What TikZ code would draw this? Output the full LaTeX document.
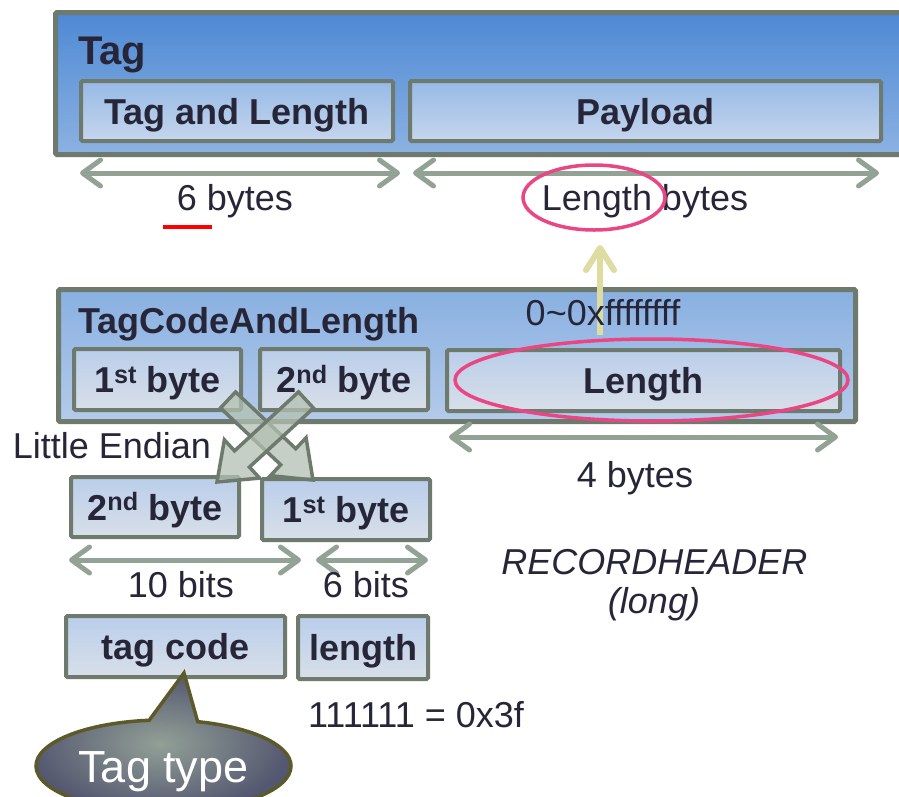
\documentclass[tikz,border=0pt]{standalone}
\usepackage{fontspec}
\setmainfont{Liberation Sans}
\usetikzlibrary{arrows.meta,calc,shapes.geometric,shapes.callouts}

\definecolor{ink}{RGB}{38,38,56}
\definecolor{rim}{RGB}{110,122,110}
\definecolor{dimline}{RGB}{146,163,150}
\definecolor{outerTop}{RGB}{78,137,212}
\definecolor{outerBot}{RGB}{140,178,226}
\definecolor{midTop}{RGB}{137,176,225}
\definecolor{midBot}{RGB}{180,203,234}
\definecolor{fieldTop}{RGB}{150,186,230}
\definecolor{fieldBot}{RGB}{198,214,237}
\definecolor{paleTop}{RGB}{186,206,234}
\definecolor{paleBot}{RGB}{216,223,233}
\definecolor{ring}{RGB}{234,70,132}
\definecolor{pointer}{RGB}{222,220,160}
\definecolor{swapfill}{RGB}{178,192,178}
\definecolor{calloutIn}{RGB}{146,160,150}
\definecolor{calloutOut}{RGB}{84,87,112}
\definecolor{calloutRim}{RGB}{92,90,40}

\newcommand\setfs[1]{\fontsize{#1}{#1}\selectfont}

% wide translucent block arrow between two named points
\newcommand\swaparrow[2]{%
  \coordinate (hb) at ($(#2)!34pt!(#1)$);
  \draw[swap]
    ($(#1)!11pt!90:(#2)$) -- ($(hb)!11pt!90:(#2)$) -- ($(hb)!26pt!90:(#2)$)
    -- (#2) -- ($(hb)!26pt!-90:(#2)$) -- ($(hb)!11pt!-90:(#2)$)
    -- ($(#1)!11pt!-90:(#2)$) -- cycle;}

\begin{document}
\begin{tikzpicture}[x=1pt,y=-1pt,
  outerbox/.style={draw=rim, line width=5pt, rounded corners=1.5pt,
    top color=outerTop, bottom color=outerBot, inner sep=0pt},
  midbox/.style={draw=rim, line width=5pt, rounded corners=1.5pt,
    top color=midTop, bottom color=midBot, inner sep=0pt},
  field/.style={draw=rim, line width=4pt, rounded corners=1.5pt,
    top color=fieldTop, bottom color=fieldBot, inner sep=0pt,
    text=ink, font=\setfs{36}\bfseries, text height=26pt, text depth=0pt},
  palefield/.style={field, top color=paleTop, bottom color=paleBot},
  span/.style={draw=dimline, line width=5pt,
    {Straight Barb[length=18pt,width=26pt,round]}-{Straight Barb[length=18pt,width=26pt,round]}},
  plain/.style={text=ink, inner sep=0pt, font=\setfs{36}, anchor=base},
  ringmark/.style={ellipse, draw=ring, line width=3.5pt, inner sep=0pt},
  swap/.style={draw=rim, line width=3.5pt, fill=swapfill, fill opacity=0.75,
    line join=miter},
]
\useasboundingbox (0,0) rectangle (899,796);
\clip (0,0) rectangle (899,796);
\fill[white] (0,0) rectangle (899,796);

% ---------- Tag ----------
\node[outerbox, minimum width=900pt, minimum height=142pt] (tag) at (505.5,83.5) {};
\node[anchor=base west, inner sep=0pt, text=ink, font=\setfs{40}\bfseries] (tagtitle) at (78,64) {Tag};
\node[field, minimum width=312pt, minimum height=60pt] (tal) at (237,111) {Tag and Length};
\node[field, minimum width=471pt, minimum height=60pt] (payload) at (645.5,111) {Payload};

\coordinate (s1a) at (80,173);  \coordinate (s1b) at (400,173);
\coordinate (s2a) at (413,173); \coordinate (s2b) at (879,173);
\draw[span] (s1a) -- (s1b);
\draw[span] (s2a) -- (s2b);

\node[plain] (sixbytes) at (235,210) {6 bytes};
\draw[red, line width=3.5pt] (163,227) -- (212,227);
\node[plain] (lenbytes) at (645,210) {Length bytes};
\node[ringmark, minimum width=142pt, minimum height=65pt] (ring1) at (594,197.5) {};

% ---------- TagCodeAndLength ----------
\node[midbox, minimum width=797pt, minimum height=132pt] (tcal) at (457,355.5) {};
\node[anchor=base west, inner sep=0pt, text=ink, font=\setfs{36}\bfseries] (tcaltitle) at (78,333) {TagCodeAndLength};

\coordinate (up0) at (600,335); \coordinate (up1) at (600,245);
\draw[pointer, line width=6pt, -{Straight Barb[length=22pt,width=28pt,round]}] (up0) -- (up1);
\node[plain] (range) at (603,325) {0\char`~0xffffffff};

\node[palefield, minimum width=167pt, minimum height=61pt] (b1) at (157.5,379.5) {1\textsuperscript{st} byte};
\node[palefield, minimum width=168pt, minimum height=61pt] (b2) at (344,379.5) {2\textsuperscript{nd} byte};
\node[palefield, minimum width=393pt, minimum height=61pt] (len) at (643.5,380.5) {Length};
\node[ringmark, minimum width=393pt, minimum height=82pt] (ring2) at (651.5,380) {};

\coordinate (s3a) at (449,437); \coordinate (s3b) at (838,437);
\draw[span] (s3a) -- (s3b);
\node[plain] (fourbytes) at (635,487) {4 bytes};

\node[plain, font=\setfs{36}\itshape] (rh) at (654.5,574) {RECORDHEADER};
\node[plain, font=\setfs{36}\itshape] (rhlong) at (654,613) {(long)};

% ---------- byte swap ----------
\node[palefield, minimum width=168pt, minimum height=60pt] (lb2) at (155,507) {2\textsuperscript{nd} byte};
\node[palefield, minimum width=168pt, minimum height=61pt] (lb1) at (346,509.5) {1\textsuperscript{st} byte};

\coordinate (sa0) at (228,400); \coordinate (sa1) at (313,480);
\coordinate (sb0) at (306,400); \coordinate (sb1) at (217,482);
\swaparrow{sa0}{sa1}
\swaparrow{sb0}{sb1}

\node[plain] (endian) at (112,458) {Little Endian};

\coordinate (s4a) at (69,560);  \coordinate (s4b) at (301,560);
\coordinate (s5a) at (316,560); \coordinate (s5b) at (428,560);
\draw[span] (s4a) -- (s4b);
\draw[span] (s5a) -- (s5b);
\node[plain] (tenbits) at (181,597) {10 bits};
\node[plain] (sixbits) at (366,597) {6 bits};

% ---------- tag code / length ----------
\node[palefield, minimum width=219pt, minimum height=61pt] (tc) at (175.5,646.5) {tag code};
\node[palefield, minimum width=130pt, minimum height=63pt] (ln) at (363,647.5) {length};
\node[plain] (allones) at (416,727) {111111 = 0x3f};

\node[ellipse callout, draw=calloutRim, line width=3.5pt,
  inner color=calloutIn, outer color=calloutOut,
  minimum width=255pt, minimum height=92pt, inner sep=0pt,
  callout absolute pointer={($(tc.south)+(8.5,-6)$)}, callout pointer arc=22,
  text=white, font=\setfs{45}, text height=33pt, text depth=0pt]
  (tagtype) at (163.5,766) {Tag type};
\end{tikzpicture}
\end{document}
